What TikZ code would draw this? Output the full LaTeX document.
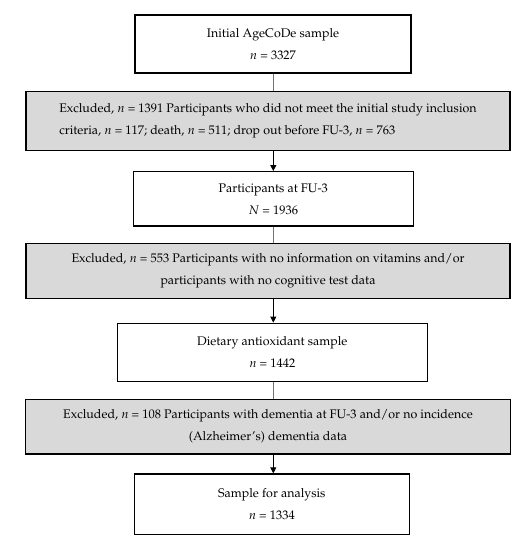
\documentclass[tikz,border=0pt]{standalone}
\usepackage[T1]{fontenc}
\usepackage{mathpazo}
\usetikzlibrary{arrows.meta}
\begin{document}
\begin{tikzpicture}[x=1bp,y=-1bp,
  box/.style={draw=black,line width=1.4bp,fill=white,inner sep=0pt,align=center,font=\fontsize{12.5}{22}\selectfont},
  excl/.style={box,fill=black!15},
  plain/.style={draw=black!55,line width=1bp},
  arr/.style={draw=black,line width=1bp,-{Triangle[length=6bp,width=6bp]}}]
\useasboundingbox (0,0) rectangle (531,550);
\node[box,minimum width=276bp,minimum height=58bp] (b1) at (273,44) {Initial AgeCoDe sample\\$n$ = 3327};
\node[excl,minimum width=484bp,minimum height=59bp,align=left] (e1) at (268,121.2) {Excluded, $n$ = 1391 Participants who did not meet the initial study inclusion\\criteria, $n$ = 117; death, $n$ = 511; drop out before FU-3, $n$ = 763};
\node[box,minimum width=280bp,minimum height=54.3bp] (b2) at (273.3,198.9) {Participants at FU-3\\$N$ = 1936};
\node[excl,minimum width=484bp,minimum height=55bp] (e2) at (268,270.8) {Excluded, $n$ = 553 Participants with no information on vitamins and/or\\participants with no cognitive test data};
\node[box,minimum width=310bp,minimum height=58.4bp] (b3) at (272.3,352.5) {Dietary antioxidant sample\\$n$ = 1442};
\node[excl,minimum width=485bp,minimum height=54.7bp] (e3) at (268,426.7) {Excluded, $n$ = 108 Participants with dementia at FU-3 and/or no incidence\\(Alzheimer's) dementia data};
\node[box,minimum width=275bp,minimum height=60.3bp] (b4) at (271.8,504.2) {Sample for analysis\\$n$ = 1334};
\coordinate (ax) at (273.3,0);
\draw[plain] (b1.south -| ax) -- (e1.north -| ax);
\draw[arr] (e1.south -| ax) -- (b2.north -| ax);
\draw[plain] (b2.south -| ax) -- (e2.north -| ax);
\draw[arr] (e2.south -| ax) -- (b3.north -| ax);
\draw[plain] (b3.south -| ax) -- (e3.north -| ax);
\draw[arr] (e3.south -| ax) -- (b4.north -| ax);
\end{tikzpicture}
\end{document}
